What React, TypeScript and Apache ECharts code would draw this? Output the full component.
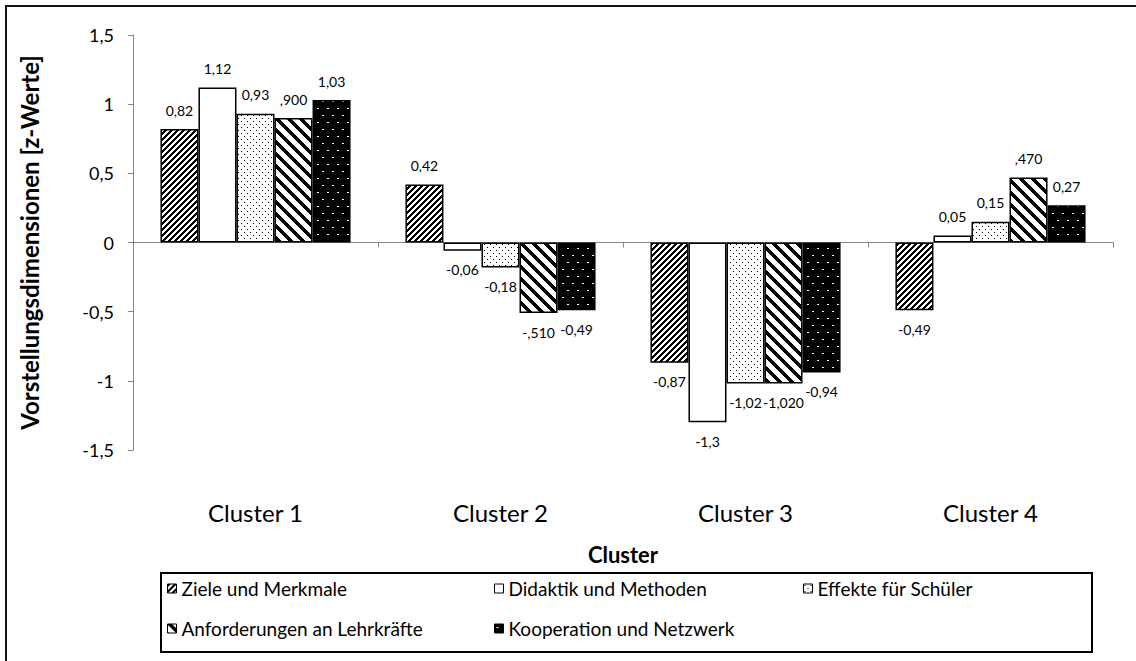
import React, { useEffect, useRef } from "react";
import * as echarts from "echarts";

const categories = ["Cluster 1", "Cluster 2", "Cluster 3", "Cluster 4"];
const seriesNames = [
  "Ziele und Merkmale",
  "Didaktik und Methoden",
  "Effekte für Schüler",
  "Anforderungen an Lehrkräfte",
  "Kooperation und Netzwerk",
];
const zieleValues = [0.82, 0.42, -0.87, -0.49];
const didaktikValues = [1.12, -0.06, -1.3, 0.05];
const effekteValues = [0.93, -0.18, -1.02, 0.15];
const anforderungenValues = [0.9, -0.51, -1.02, 0.47];
const kooperationValues = [1.03, -0.49, -0.94, 0.27];

const zieleLabels = ["0,82", "0,42", "-0,87", "-0,49"];
const didaktikLabels = ["1,12", "-0,06", "-1,3", "0,05"];
const effekteLabels = ["0,93", "-0,18", "-1,02", "0,15"];
const anforderungenLabels = [",900", "-,510", "-1,020", ",470"];
const kooperationLabels = ["1,03", "-0,49", "-0,94", "0,27"];

const yTicks = { min: -1.5, max: 1.5, interval: 0.5 };

function makePattern(
  w: number,
  h: number,
  bg: string,
  fg: string,
  test: (x: number, y: number) => boolean
) {
  const c = document.createElement("canvas");
  c.width = w;
  c.height = h;
  const ctx = c.getContext("2d")!;
  ctx.fillStyle = bg;
  ctx.fillRect(0, 0, w, h);
  ctx.fillStyle = fg;
  for (let y = 0; y < h; y++) {
    for (let x = 0; x < w; x++) {
      if (test(x, y)) ctx.fillRect(x, y, 1, 1);
    }
  }
  return { image: c, repeat: "repeat", imageWidth: w, imageHeight: h } as any;
}

export default function App() {
  const ref = useRef<HTMLDivElement>(null);
  useEffect(() => {
    if (!ref.current) return;
    const chart = echarts.init(ref.current, undefined, { renderer: "svg" });

    const patZiele = makePattern(6, 6, "#fff", "#000", (x, y) => (x + y) % 6 < 3);
    const patDidaktik = "#ffffff";
    const patEffekte = makePattern(6, 6, "#fff", "#000", (x, y) =>
      (x === 1 && y === 1) || (x === 4 && y === 4)
    );
    const patAnf = makePattern(12, 12, "#fff", "#000", (x, y) => (((x - y) % 12) + 12) % 12 < 5);
    const patKoop = makePattern(10, 14, "#000", "#fff", (x, y) =>
      ((x === 2 || x === 3) && y === 3) || ((x === 7 || x === 8) && y === 10)
    );

    const fills = [patZiele, patDidaktik, patEffekte, patAnf, patKoop];
    const values = [zieleValues, didaktikValues, effekteValues, anforderungenValues, kooperationValues];
    const labels = [zieleLabels, didaktikLabels, effekteLabels, anforderungenLabels, kooperationLabels];

    const series = seriesNames.map((name, i) => ({
      name,
      type: "bar",
      xAxisIndex: 0,
      barGap: "0%",
      barCategoryGap: "22.4%",
      itemStyle: { color: fills[i], borderColor: "#000", borderWidth: 1.5 },
      label: {
        show: true,
        distance: 12,
        fontSize: 14,
        fontFamily: "Lato",
        color: "#000",
        formatter: (p: any) => labels[i][p.dataIndex],
      },
      data: values[i].map((v) => ({
        value: v,
        label: { position: v >= 0 ? "top" : "bottom" },
      })),
    }));

    const legendCommon = {
      orient: "vertical",
      top: 579,
      itemGap: 21,
      itemWidth: 9,
      itemHeight: 9,
      icon: "rect",
      padding: 0,
      itemStyle: { borderColor: "#000", borderWidth: 1 },
      textStyle: { fontSize: 19, fontFamily: "Lato", color: "#000" },
    };

    chart.setOption({
      animation: false,
      textStyle: { fontFamily: "Lato" },
      grid: { left: 133, right: 23, top: 35, bottom: 211, containLabel: false },
      legend: [
        { ...legendCommon, left: 167, data: [seriesNames[0], seriesNames[3]] },
        { ...legendCommon, left: 494, data: [seriesNames[1], seriesNames[4]] },
        { ...legendCommon, left: 803, data: [seriesNames[2]] },
      ],
      xAxis: [
        {
          type: "category",
          data: categories,
          position: "bottom",
          axisLine: { show: false, onZero: false },
          axisTick: { show: false },
          axisLabel: { fontSize: 24, color: "#000", margin: 50, fontFamily: "Lato" },
          name: "Cluster",
          nameLocation: "middle",
          nameGap: 93,
          nameTextStyle: { fontSize: 22, fontWeight: "bold", color: "#000", fontFamily: "Lato" },
        },
        {
          type: "category",
          data: categories,
          position: "top",
          axisLine: { show: true, onZero: true, lineStyle: { color: "#868686", width: 1 } },
          axisTick: { show: true, inside: true, length: 5, lineStyle: { color: "#868686" } },
          axisLabel: { show: false },
        },
      ],
      yAxis: {
        type: "value",
        min: yTicks.min,
        max: yTicks.max,
        interval: yTicks.interval,
        axisLine: { show: true, lineStyle: { color: "#868686", width: 1 } },
        axisTick: { show: true, length: 5, lineStyle: { color: "#868686" } },
        splitLine: { show: false },
        axisLabel: {
          fontSize: 18,
          color: "#000",
          margin: 19,
          fontFamily: "Lato",
          formatter: (v: number) => String(v).replace(".", ","),
        },
        name: "Vorstellungsdimensionen [z-Werte]",
        nameLocation: "middle",
        nameGap: 92,
        nameTextStyle: { fontSize: 24, fontWeight: "bold", color: "#000", fontFamily: "Lato" },
      },
      graphic: [
        {
          type: "rect",
          shape: { x: 6, y: 6, width: 1300, height: 800 },
          style: { fill: "none", stroke: "#111", lineWidth: 2 },
          silent: true,
        },
        {
          type: "rect",
          shape: { x: 161, y: 573, width: 931, height: 79 },
          style: { fill: "none", stroke: "#000", lineWidth: 2 },
          silent: true,
        },
      ],
      series,
    } as any);

    return () => chart.dispose();
  }, []);

  return (
    <div
      ref={ref}
      style={{ position: "fixed", left: 0, top: 0, width: 1136, height: 661, background: "#fff" }}
    />
  );
}
